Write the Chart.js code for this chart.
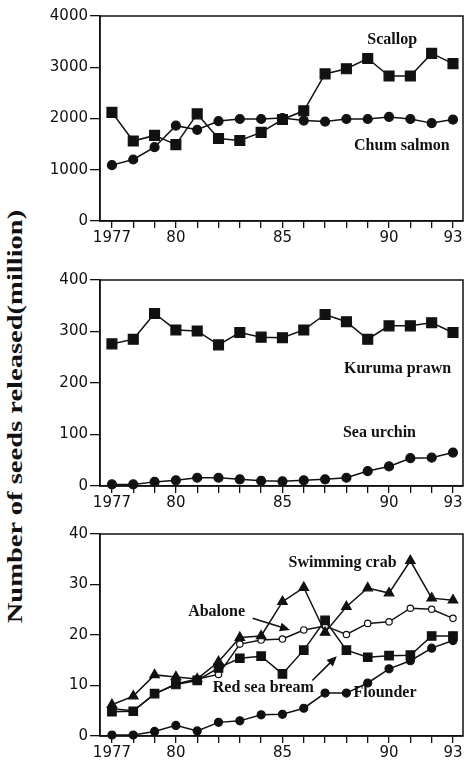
<!DOCTYPE html>
<html>
<head>
<meta charset="utf-8">
<script src="https://cdn.jsdelivr.net/npm/chart.js@4.4.1/dist/chart.umd.min.js"></script>
<style>
  html, body { margin:0; padding:0; background:#fff; }
  #wrap { position:relative; width:464px; height:765px; overflow:hidden; background:#fff; }
  canvas { position:absolute; }
  #ytitle { position:absolute; left:15px; top:416px; white-space:nowrap;
    font-family:"Liberation Serif","DejaVu Serif",serif; font-weight:bold; font-size:21px; color:#111;
    transform-origin:center center; line-height:1; }
</style>
</head>
<body>
<div id="wrap">
  <canvas id="c1" width="434" height="250" style="left:30px;top:0px;width:434px;height:250px"></canvas>
  <canvas id="c2" width="434" height="262" style="left:30px;top:250px;width:434px;height:262px"></canvas>
  <canvas id="c3" width="434" height="253" style="left:30px;top:512px;width:434px;height:253px"></canvas>
  <span id="ytitle">Number of seeds released(million)</span>
</div>
<script>
// ---------------- DATA ----------------
const years = [1977,1978,1979,1980,1981,1982,1983,1984,1985,1986,1987,1988,1989,1990,1991,1992,1993];
const xTickLabels = {1977:'1977', 1980:'80', 1985:'85', 1990:'90', 1993:'93'};

// Panel 1
const scallop     = [2120,1560,1670,1490,2090,1610,1570,1730,1980,2150,2870,2970,3170,2830,2830,3270,3070];
const chumSalmon  = [1090,1200,1440,1860,1780,1950,1990,1990,2010,1960,1940,1990,1990,2030,1990,1910,1980];
const yTicks1 = [0,1000,2000,3000,4000];

// Panel 2
const kurumaPrawn = [276,285,335,303,301,274,298,289,288,303,333,319,285,311,311,317,298];
const seaUrchin   = [3,3,8,11,16,16,13,10,9,11,13,16,29,38,54,55,65];
const yTicks2 = [0,100,200,300,400];

// Panel 3
const swimmingCrab = [6.2,7.9,12.1,11.7,11.3,14.7,19.5,19.8,26.6,29.4,20.5,25.6,29.3,28.3,34.7,27.3,26.9];
const abalone      = [5.4,5.0,8.3,10.3,11.3,12.2,18.2,19.0,19.2,21.0,21.8,20.1,22.3,22.6,25.3,25.1,23.3];
const redSeaBream  = [4.8,4.9,8.4,10.2,11.0,13.5,15.4,15.8,12.3,17.0,22.9,17.0,15.6,15.9,16.0,19.8,19.8];
const flounder     = [0.2,0.2,0.9,2.1,1.0,2.7,3.0,4.2,4.3,5.5,8.5,8.5,10.5,13.3,14.9,17.4,18.9];
const yTicks3 = [0,10,20,30,40];

// ---------------- STYLE / LAYOUT ----------------
const INK = '#111';
const tickFont = { family: '"DejaVu Sans", sans-serif', size: 15 };
const annFont = 'bold 16px "Liberation Serif", "DejaVu Serif", serif';

function pts(arr) { return years.map((y, i) => ({ x: y, y: arr[i] })); }

function ds(label, arr, style, radius, fill) {
  return {
    label, data: pts(arr),
    borderColor: INK, borderWidth: 1.5,
    pointStyle: style, pointRadius: radius, pointHoverRadius: radius,
    pointBackgroundColor: fill || INK, pointBorderColor: INK, pointBorderWidth: 1.2,
    tension: 0, fill: false, clip: false
  };
}

const framePlugin = {
  id: 'frame',
  beforeDatasetsDraw(chart) {
    const a = chart.chartArea, ctx = chart.ctx;
    ctx.save();
    ctx.strokeStyle = INK; ctx.lineWidth = 1.5;
    ctx.strokeRect(a.left, a.top, a.right - a.left, a.bottom - a.top);
    ctx.restore();
  }
};

const annPlugin = {
  id: 'ann',
  afterDatasetsDraw(chart, args, opts) {
    const ctx = chart.ctx, xs = chart.scales.x, ys = chart.scales.y;
    ctx.save();
    ctx.fillStyle = INK; ctx.strokeStyle = INK;
    (opts.arrows || []).forEach(a => {
      const x1 = xs.getPixelForValue(a.from[0]), y1 = ys.getPixelForValue(a.from[1]);
      const x2 = xs.getPixelForValue(a.to[0]),   y2 = ys.getPixelForValue(a.to[1]);
      const ang = Math.atan2(y2 - y1, x2 - x1), L = 10, W = 4.5;
      ctx.lineWidth = 1.6;
      ctx.beginPath(); ctx.moveTo(x1, y1);
      ctx.lineTo(x2 - Math.cos(ang) * L * 0.8, y2 - Math.sin(ang) * L * 0.8); ctx.stroke();
      ctx.beginPath();
      ctx.moveTo(x2, y2);
      ctx.lineTo(x2 - Math.cos(ang) * L - Math.sin(ang) * W, y2 - Math.sin(ang) * L + Math.cos(ang) * W);
      ctx.lineTo(x2 - Math.cos(ang) * L + Math.sin(ang) * W, y2 - Math.sin(ang) * L - Math.cos(ang) * W);
      ctx.closePath(); ctx.fill();
    });
    ctx.font = annFont; ctx.textAlign = 'center'; ctx.textBaseline = 'middle';
    (opts.labels || []).forEach(l => {
      ctx.fillText(l.text, xs.getPixelForValue(l.x), ys.getPixelForValue(l.y));
    });
    ctx.restore();
  }
};

function makeChart(id, datasets, yMax, yTicks, padTop, axisH, ann) {
  return new Chart(document.getElementById(id), {
    type: 'line',
    data: { datasets },
    plugins: [framePlugin, annPlugin],
    options: {
      responsive: false, animation: false, devicePixelRatio: 1,
      layout: { autoPadding: false, padding: { top: padTop, right: 1, left: 0, bottom: 0 } },
      plugins: { legend: { display: false }, tooltip: { enabled: false }, ann },
      scales: {
        x: {
          type: 'linear', min: 1976.44, max: 1993.47,
          afterBuildTicks: s => { s.ticks = years.map(v => ({ value: v })); },
          afterFit: s => { s.height = axisH; s.paddingLeft = 0; s.paddingRight = 0; },
          ticks: { autoSkip: false, maxRotation: 0, padding: 1, color: INK, font: tickFont,
                   callback: v => xTickLabels[v] || '' },
          grid: { drawOnChartArea: false, tickLength: 7, color: INK, lineWidth: 1.3 },
          border: { color: INK, width: 1.5 }
        },
        y: {
          min: 0, max: yMax,
          afterBuildTicks: s => { s.ticks = yTicks.map(v => ({ value: v })); },
          afterFit: s => { s.width = 70; s.paddingTop = 0; s.paddingBottom = 0; },
          ticks: { padding: 2, color: INK, font: tickFont, callback: v => String(v) },
          grid: { drawOnChartArea: false, tickLength: 10, color: INK, lineWidth: 1.3 },
          border: { color: INK, width: 1.5 }
        }
      }
    }
  });
}

makeChart('c1', [
  ds('Scallop', scallop, 'rect', 7),
  ds('Chum salmon', chumSalmon, 'circle', 4.5)
], 4000, yTicks1, 16, 29, {
  labels: [
    { text: 'Scallop', x: 1990.15, y: 3530 },
    { text: 'Chum salmon', x: 1990.6, y: 1465 }
  ]
});

makeChart('c2', [
  ds('Kuruma prawn', kurumaPrawn, 'rect', 7),
  ds('Sea urchin', seaUrchin, 'circle', 4.5)
], 400, yTicks2, 30, 26, {
  labels: [
    { text: 'Kuruma prawn', x: 1990.4, y: 228 },
    { text: 'Sea urchin', x: 1989.55, y: 103 }
  ]
});

makeChart('c3', [
  ds('Swimming crab', swimmingCrab, 'triangle', 5.5),
  ds('Red sea bream', redSeaBream, 'rect', 6),
  ds('Flounder', flounder, 'circle', 4),
  ds('Abalone', abalone, 'circle', 3.2, '#fff')
], 40, yTicks3, 22, 29, {
  labels: [
    { text: 'Swimming crab', x: 1987.82, y: 34.2 },
    { text: 'Abalone', x: 1981.91, y: 24.6 },
    { text: 'Red sea bream', x: 1984.1, y: 9.5 },
    { text: 'Flounder', x: 1989.81, y: 8.5 }
  ],
  arrows: [
    { from: [1983.6, 23.3], to: [1985.35, 21.0] },
    { from: [1986.4, 11.0], to: [1987.55, 15.8] }
  ]
});

// y-axis title: stretch to the reference's length
const t = document.getElementById('ytitle');
const w = t.offsetWidth, h = t.offsetHeight;
const k = 413 / w;
t.style.left = (15 - w / 2) + 'px';
t.style.top = (416 - h / 2) + 'px';
t.style.transform = 'rotate(-90deg) scaleX(' + k.toFixed(3) + ')';
</script>
</body>
</html>
